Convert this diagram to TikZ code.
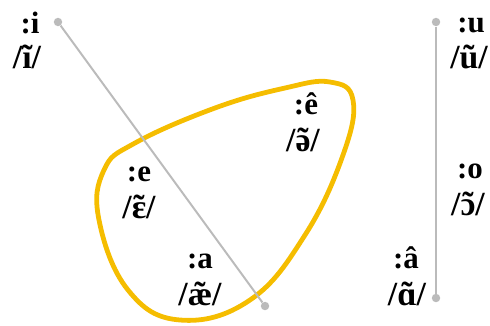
\documentclass[tikz,border=0pt]{standalone}
\usepackage{fontspec}
\setmainfont{Liberation Serif}
\usetikzlibrary{positioning, calc}
\definecolor{Rail}{HTML}{BBBBBB}
\definecolor{Blob}{HTML}{F5BD00}
\newcommand\nas[1]{\ooalign{#1\cr\hidewidth˜\hidewidth\cr}}
\tikzset{
    letter/.style={anchor=base, font=\bfseries\fontsize{22}{22}\selectfont, inner sep=0pt},
    ipa/.style={anchor=base, font=\bfseries\fontsize{24}{24}\selectfont, inner sep=0pt},
    rail/.style={line width=1.4pt, color=Rail},
    railend/.style={circle, fill=Rail, inner sep=0pt, minimum size=6pt},
    blob/.style={line width=3.4pt, color=Blob},
}
\begin{document}
\begin{tikzpicture}[x=0.025cm, y=-0.025cm]
    \useasboundingbox (0,0) rectangle (490,325);

    % Zone (ê, e, a)
    \draw[blob] plot[smooth cycle, tension=0.7] coordinates {
        (330,82) (353,100) (343,155) (305,235) (250,300) (180,320)
        (128,290) (99,220) (104,170) (135,143) (215,108) (285,88)};

    % Rails
    \node[railend] (i end) at (58,22) {};
    \node[railend] (a end) at (265,306) {};
    \node[railend] (u end) at (436,22) {};
    \node[railend] (aa end) at (436,298) {};
    \draw[rail] (i end) -- (a end);
    \draw[rail] (u end) -- (aa end);

    % Voyelles
    \node[letter] (i) at (30,33) {:i};
    \node[ipa] (i ipa) at (27,68) {/ĩ/};
    \node[letter] (u) at (471,32) {:u};
    \node[ipa] (u ipa) at (469,68) {/ũ/};
    \node[letter] (o) at (470,178) {:o};
    \node[ipa] (o ipa) at (468,215) {/\nas{ɔ}/};
    \node[letter] (aa) at (406,268) {:â};
    \node[ipa] (aa ipa) at (407,305) {/\nas{ɑ}/};
    \node[letter] (eh) at (306,114) {:ê};
    \node[ipa] (eh ipa) at (303,151) {/\nas{ə}/};
    \node[letter] (e) at (139,181) {:e};
    \node[ipa] (e ipa) at (139,218) {/\nas{ɛ}/};
    \node[letter] (a) at (200,268) {:a};
    \node[ipa] (a ipa) at (200,305) {/\nas{æ}/};
\end{tikzpicture}
\end{document}
